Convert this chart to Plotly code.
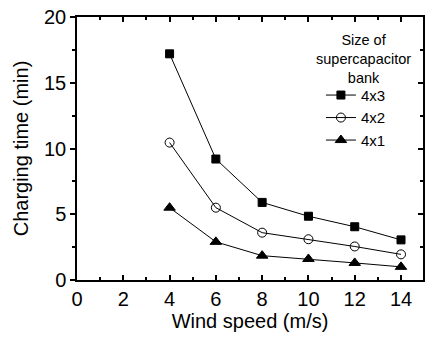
import plotly.graph_objects as go

wind_speed = [4, 6, 8, 10, 12, 14]
t_4x3 = [17.2, 9.2, 5.9, 4.85, 4.05, 3.05]
t_4x2 = [10.45, 5.5, 3.6, 3.1, 2.55, 1.95]
t_4x1 = [5.5, 2.9, 1.85, 1.6, 1.3, 1.0]
series_names = ["4x3", "4x2", "4x1"]
symbols = ["square", "circle-open", "triangle-up"]
legend_title = "Size of<br>supercapacitor<br>bank"

FONT = "Liberation Sans, Arial, sans-serif"

fig = go.Figure()
for name, ys, sym, sz in zip(series_names, [t_4x3, t_4x2, t_4x1], symbols, [8, 9, 10]):
    fig.add_trace(go.Scatter(
        x=wind_speed, y=ys, name=name, mode="lines+markers",
        line=dict(color="black", width=1),
        marker=dict(symbol=sym, size=sz, color="black",
                    line=dict(color="black", width=1)),
    ))
# invisible trace for mirrored axes
fig.add_trace(go.Scatter(x=[0], y=[0], xaxis="x2", yaxis="y2", mode="markers",
                         marker=dict(opacity=0), showlegend=False, hoverinfo="skip"))

axis_common = dict(showgrid=False, zeroline=False, showline=True, linecolor="black",
                   linewidth=1.5, tickcolor="black", tickwidth=1.5,
                   tickfont=dict(family=FONT, size=20, color="black"))

fig.update_layout(
    width=425, height=346,
    margin=dict(l=77, r=2, t=17, b=66),
    paper_bgcolor="white", plot_bgcolor="white",
    font=dict(family=FONT, color="black"),
    xaxis=dict(range=[0, 14.95], dtick=2, ticks="inside", ticklen=5,
               minor=dict(dtick=1, ticks="inside", ticklen=3, tickcolor="black", tickwidth=1.5),
               title=dict(text="Wind speed (m/s)", font=dict(family=FONT, size=20), standoff=2),
               **axis_common),
    yaxis=dict(range=[0, 20], dtick=5, ticks="outside", ticklen=5,
               minor=dict(dtick=2.5, ticks="outside", ticklen=3, tickcolor="black", tickwidth=1.5),
               title=dict(text="Charging time (min)", font=dict(family=FONT, size=20), standoff=10),
               **axis_common),
    xaxis2=dict(range=[0, 14.95], dtick=2, ticks="inside", ticklen=5, side="top",
                overlaying="x", showticklabels=False,
                minor=dict(dtick=1, ticks="inside", ticklen=3, tickcolor="black", tickwidth=1.5),
                **axis_common),
    yaxis2=dict(range=[0, 20], dtick=5, ticks="inside", ticklen=5, side="right",
                overlaying="y", showticklabels=False,
                minor=dict(dtick=2.5, ticks="inside", ticklen=3, tickcolor="black", tickwidth=1.5),
                **axis_common),
    legend=dict(x=0.705, y=0.765, xanchor="left", yanchor="top",
                bgcolor="rgba(0,0,0,0)", font=dict(family=FONT, size=15),
                itemwidth=30, tracegroupgap=0),
    showlegend=True,
    annotations=[dict(text=legend_title, xref="paper", yref="paper",
                      x=(363 - 77) / 346, y=(280 - 59) / 263, xanchor="center", yanchor="middle",
                      showarrow=False, align="center",
                      font=dict(family=FONT, size=14.5, color="black"))],
)

fig.write_html("out.html")
